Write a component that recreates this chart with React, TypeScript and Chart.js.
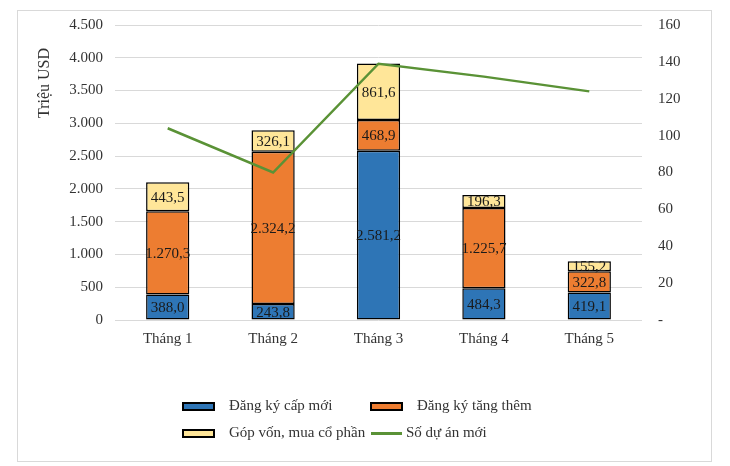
import React, { useEffect, useRef } from 'react';
import { Chart, registerables } from 'chart.js';

Chart.register(...registerables);

const months = ['Tháng 1', 'Tháng 2', 'Tháng 3', 'Tháng 4', 'Tháng 5'];
const newReg = [388.0, 243.8, 2581.2, 484.3, 419.1];
const addReg = [1270.3, 2324.2, 468.9, 1225.7, 322.8];
const capital = [443.5, 326.1, 861.6, 196.3, 155.2];
const newProjects = [104, 80, 139, 132, 124];

const seriesNames = ['Đăng ký cấp mới', 'Đăng ký tăng thêm', 'Góp vốn, mua cổ phần', 'Số dự án mới'];
const COLORS = { blue: '#2E75B6', orange: '#ED7D31', yellow: '#FFE699', green: '#5A9236' };
const FONT = "'Liberation Serif', 'Times New Roman', serif";
const TEXT = '#333333';

function fmt(v: number, decimals: number): string {
  const [i, d] = v.toFixed(decimals).split('.');
  const int = i.replace(/\B(?=(\d{3})+(?!\d))/g, '.');
  return d ? int + ',' + d : int;
}

const labelPlugin = {
  id: 'barLabels',
  afterDatasetsDraw(chart: any) {
    const ctx = chart.ctx;
    ctx.save();
    ctx.font = `15px ${FONT}`;
    ctx.fillStyle = '#1a1a1a';
    ctx.textAlign = 'center';
    ctx.textBaseline = 'middle';
    chart.data.datasets.forEach((ds: any, di: number) => {
      if (ds.type === 'line') return;
      const meta = chart.getDatasetMeta(di);
      meta.data.forEach((el: any, i: number) => {
        const y = (el.y + el.base) / 2;
        ctx.fillText(fmt(ds.data[i], 1), el.x, y + 1);
      });
    });
    ctx.restore();
  },
  afterDraw(chart: any) {
    const ctx = chart.ctx;
    ctx.save();
    ctx.translate(45, 83);
    ctx.rotate(-Math.PI / 2);
    ctx.font = `16px ${FONT}`;
    ctx.fillStyle = TEXT;
    ctx.textAlign = 'center';
    ctx.textBaseline = 'middle';
    ctx.fillText('Triệu USD', 0, 0);
    ctx.restore();
  },
};

export default function App() {
  const ref = useRef<HTMLCanvasElement>(null);

  useEffect(() => {
    if (!ref.current) return;
    const barCommon = {
      type: 'bar' as const,
      borderColor: '#000',
      borderWidth: 1.5,
      borderSkipped: false,
      barPercentage: 0.41,
      categoryPercentage: 1,
      yAxisID: 'y',
      order: 1,
    };
    const chart = new Chart(ref.current, {
      type: 'bar',
      data: {
        labels: months,
        datasets: [
          { ...barCommon, label: seriesNames[0], data: newReg, backgroundColor: COLORS.blue },
          { ...barCommon, label: seriesNames[1], data: addReg, backgroundColor: COLORS.orange },
          { ...barCommon, label: seriesNames[2], data: capital, backgroundColor: COLORS.yellow },
          {
            type: 'line',
            label: seriesNames[3],
            data: newProjects,
            borderColor: COLORS.green,
            backgroundColor: COLORS.green,
            borderWidth: 2.5,
            pointRadius: 0,
            tension: 0,
            yAxisID: 'y1',
            order: 0,
          } as any,
        ],
      },
      options: {
        animation: false,
        responsive: true,
        maintainAspectRatio: false,
        layout: { padding: { left: 19, right: 20, top: 25, bottom: 116 } },
        plugins: { legend: { display: false }, tooltip: { enabled: false } },
        scales: {
          x: {
            stacked: true,
            grid: { display: false, drawTicks: false },
            border: { display: false },
            ticks: { font: { family: FONT, size: 15 }, color: TEXT, padding: 10 },
            afterFit: (s: any) => { s.height = 30; },
          },
          y: {
            stacked: true,
            position: 'left',
            min: 0,
            max: 4500,
            ticks: {
              stepSize: 500,
              font: { family: FONT, size: 15 },
              color: TEXT,
              padding: 12,
              callback: (v: any) => fmt(Number(v), 0),
            },
            grid: { color: '#d9d9d9', drawTicks: false, lineWidth: 1 },
            border: { display: false },
            afterFit: (s: any) => { s.width = 96; },
          },
          y1: {
            position: 'right',
            min: 0,
            max: 160,
            ticks: {
              stepSize: 20,
              font: { family: FONT, size: 15 },
              color: TEXT,
              padding: 16,
              callback: (v: any) => (Number(v) === 0 ? '-' : String(v)),
            },
            grid: { drawOnChartArea: false, drawTicks: false },
            border: { display: false },
            afterFit: (s: any) => { s.width = 68; },
          },
        },
      },
      plugins: [labelPlugin],
    } as any);
    return () => chart.destroy();
  }, []);

  const textStyle = (left: number, top: number): React.CSSProperties => ({
    position: 'absolute', left, top, height: 20, lineHeight: '20px',
    fontSize: 15, fontFamily: FONT, color: TEXT, whiteSpace: 'nowrap',
  });
  const boxStyle = (left: number, top: number, bg: string): React.CSSProperties => ({
    position: 'absolute', left, top, width: 33, height: 9, background: bg,
    border: '2px solid #000', boxSizing: 'border-box',
  });

  return (
    <div style={{ position: 'absolute', left: 0, top: 0, width: 730, height: 466, background: '#fff' }}>
      <div style={{ position: 'absolute', left: 17, top: 10, width: 695, height: 452, border: '1px solid #d9d9d9', boxSizing: 'border-box' }} />
      <div style={{ position: 'absolute', left: 0, top: 0, width: 730, height: 466 }}>
        <canvas ref={ref} />
      </div>
      <div style={boxStyle(182, 402, COLORS.blue)} />
      <div style={textStyle(229, 395)}>{seriesNames[0]}</div>
      <div style={boxStyle(370, 402, COLORS.orange)} />
      <div style={textStyle(417, 395)}>{seriesNames[1]}</div>
      <div style={boxStyle(182, 429, COLORS.yellow)} />
      <div style={textStyle(229, 422)}>{seriesNames[2]}</div>
      <div style={{ position: 'absolute', left: 371, top: 432, width: 31, height: 2.5, background: COLORS.green }} />
      <div style={textStyle(406, 422)}>{seriesNames[3]}</div>
    </div>
  );
}
